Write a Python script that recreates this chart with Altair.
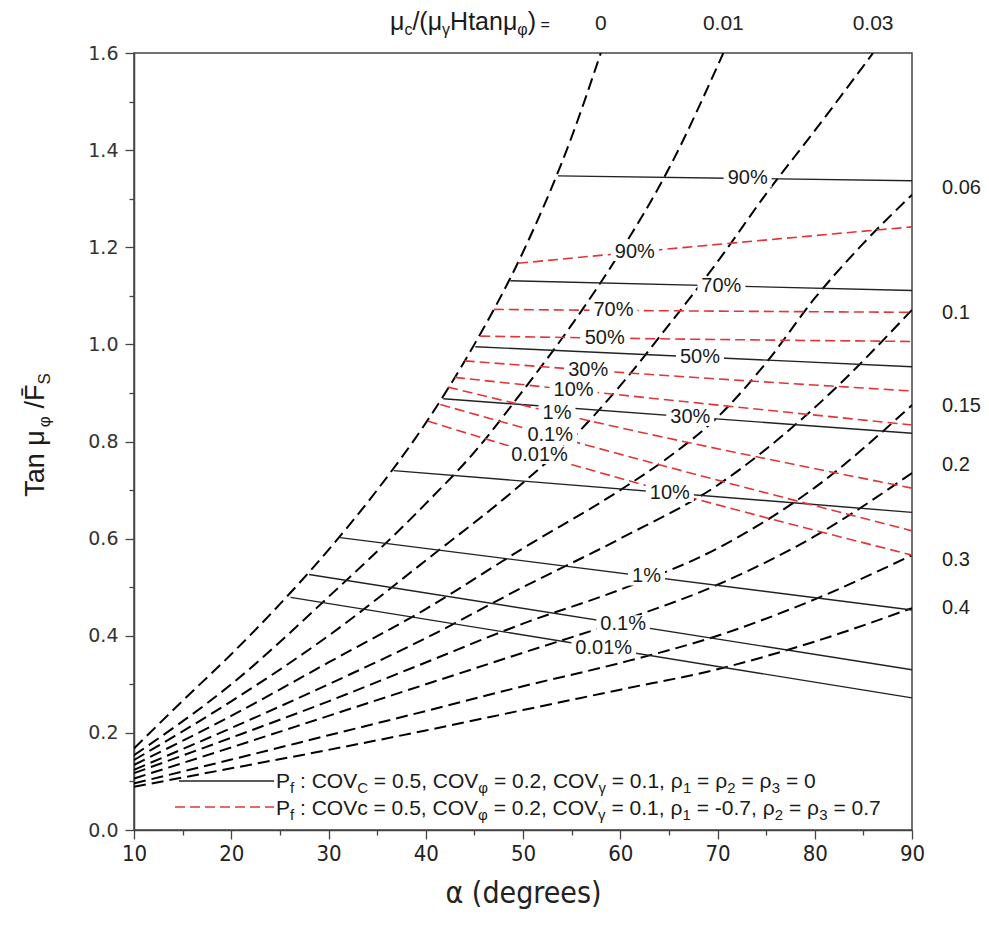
import altair as alt
import pandas as pd

# ---------------- data ----------------
CURVE_NAMES = ["0", "0.01", "0.03", "0.06", "0.1", "0.15", "0.2", "0.3", "0.4"]

C0_A = [10, 15, 20, 25, 30, 35, 40, 45, 50, 55, 58]
C0_V = [0.168, 0.266, 0.362, 0.465, 0.577, 0.700, 0.838, 1.000, 1.190, 1.427, 1.600]
C001_A = [10, 20, 30, 40, 45, 50, 55, 60, 65, 70.6]
C001_V = [0.154, 0.300, 0.480, 0.672, 0.778, 0.905, 1.040, 1.190, 1.362, 1.600]
C003_A = [10, 20, 30, 40, 50, 55, 60, 65, 70, 75, 80, 86]
C003_V = [0.144, 0.265, 0.400, 0.555, 0.715, 0.805, 0.915, 1.040, 1.170, 1.310, 1.440, 1.600]
C006_A = [10, 20, 30, 40, 50, 60, 65, 70, 75, 80, 85, 90]
C006_V = [0.134, 0.235, 0.345, 0.455, 0.580, 0.700, 0.768, 0.850, 0.962, 1.095, 1.208, 1.308]
C01_A = [10, 20, 30, 40, 50, 60, 70, 80, 90]
C01_V = [0.124, 0.210, 0.300, 0.395, 0.500, 0.600, 0.710, 0.870, 1.071]
C015_A = [10, 20, 30, 40, 50, 60, 70, 80, 90]
C015_V = [0.117, 0.190, 0.265, 0.345, 0.425, 0.495, 0.580, 0.705, 0.875]
C02_A = [10, 20, 30, 40, 50, 60, 70, 80, 90]
C02_V = [0.106, 0.170, 0.235, 0.300, 0.365, 0.430, 0.505, 0.605, 0.735]
C03_A = [10, 20, 30, 40, 50, 60, 70, 80, 90]
C03_V = [0.096, 0.145, 0.195, 0.245, 0.296, 0.344, 0.400, 0.475, 0.566]
C04_A = [10, 20, 30, 40, 50, 60, 70, 80, 90]
C04_V = [0.089, 0.127, 0.165, 0.205, 0.247, 0.289, 0.331, 0.388, 0.457]

CURVE_A = [C0_A, C001_A, C003_A, C006_A, C01_A, C015_A, C02_A, C03_A, C04_A]
CURVE_V = [C0_V, C001_V, C003_V, C006_V, C01_V, C015_V, C02_V, C03_V, C04_V]

# solid black probability lines (rho = 0)
BLACK_LEVELS = ["90%", "70%", "50%", "30%", "10%", "1%", "0.1%", "0.01%"]
BLACK_START_A = [53.6, 48.7, 45.1, 41.8, 36.7, 31.2, 28.0, 26.1]
BLACK_START_V = [1.347, 1.131, 0.995, 0.888, 0.740, 0.602, 0.526, 0.479]
BLACK_END_A = [90, 90, 90, 90, 90, 90, 90, 90]
BLACK_END_V = [1.337, 1.111, 0.954, 0.817, 0.654, 0.453, 0.330, 0.272]
BLACK_LABEL_A = [73.1, 70.4, 68.2, 67.2, 65.1, 62.7, 60.3, 58.3]

# red dashed probability lines (correlated case)
RED_LEVELS = ["90%", "70%", "50%", "30%", "10%", "1%", "0.1%", "0.01%"]
RED_START_A = [49.5, 47.0, 45.6, 44.0, 43.0, 42.3, 41.5, 40.2]
RED_START_V = [1.167, 1.072, 1.017, 0.966, 0.932, 0.912, 0.876, 0.842]
RED_MID_A = [61.5, 59.3, 58.4, 56.7, 55.2, 53.5, 52.8, 51.7]
RED_MID_V = [1.190, 1.070, 1.013, 0.947, 0.906, 0.858, 0.813, 0.772]
RED_END_A = [90, 90, 90, 90, 90, 90, 90, 90]
RED_END_V = [1.242, 1.066, 1.006, 0.904, 0.834, 0.704, 0.616, 0.566]

RIGHT_LABELS = ["0.06", "0.1", "0.15", "0.2", "0.3", "0.4"]
RIGHT_LABEL_V = [1.321, 1.065, 0.873, 0.752, 0.557, 0.457]
TOP_LABELS = ["0", "0.01", "0.03"]
TOP_LABEL_A = [58.0, 70.6, 86.0]

X_TICKS = list(range(10, 95, 5))
Y_TICKS = [round(i * 0.1, 1) for i in range(0, 17)]

# ---------------- layout helpers ----------------
PL, PT, W, H = 134, 53, 778, 777
XD, YD = (10, 90), (0, 1.6)


def ax(px):
    return XD[0] + (px - PL) * (XD[1] - XD[0]) / W


def vy(py):
    return (PT + H - py) * (YD[1] - YD[0]) / H


KX = (XD[1] - XD[0]) / W
KY = (YD[1] - YD[0]) / H

MET = {' ': .278, ':': .278, ',': .278, '.': .278, '=': .584, '-': .333,
       'P': .667, 'C': .722, 'O': .778, 'V': .667, 'c': .5, 'f': .278, 'H': .722,
       't': .278, 'a': .556, 'n': .556, 'T': .611, 'F': .611, 'S': .667, 's': .5,
       '/': .278, '(': .333, ')': .333, 'μ': .576, 'γ': .5, 'φ': .652, 'ρ': .578,
       '%': .889, '\u0304': 0.0}


def tw(s, size):
    return sum(MET.get(ch, .556) for ch in s) * size


def advance_rows(segs, size, sub, small=None):
    """(text, kind, font size, offset along the line) for each segment"""
    out, pos = [], 0.0
    for txt, kind in segs:
        s = sub if kind == 's' else (small if kind == 't' else size)
        lead = len(txt) - len(txt.lstrip(' '))
        pos += lead * MET[' '] * s
        body = txt.strip(' ')
        out.append((body, kind, s, pos))
        pos += tw(body, s)
        pos += (len(txt) - lead - len(body)) * MET[' '] * s
    return out, pos


def layout(segs, x0, base, size, sub, shift, small=None):
    rows = []
    items, _ = advance_rows(segs, size, sub, small)
    for body, kind, s, pos in items:
        rows.append(dict(px=x0 + pos, py=base + (shift if kind == 's' else 0), t=body, size=s))
    return rows


FONT = "Liberation Sans, Arial, sans-serif"
NARROW = "Liberation Sans Narrow, DejaVu Sans Condensed, Liberation Sans, Arial"
RED = "#e3343a"

XS = alt.Scale(domain=list(XD), nice=False, zero=False)
YS = alt.Scale(domain=list(YD), nice=False, zero=False)

AXIS_X = alt.Axis(
    values=X_TICKS, labelExpr="datum.value % 10 == 0 ? datum.label : ''",
    tickSize={"condition": {"test": "datum.value % 10 == 0", "value": 9}, "value": 5},
    grid=False, title="α (degrees)", titleFont=NARROW, titleFontSize=30,
    titleFontWeight="normal", titleColor="#222", titlePadding=14,
    labelFont=NARROW, labelFontSize=22, labelColor="#222", labelPadding=4,
    labelOverlap=False, labelFlush=False, domainColor="#444", domainWidth=1.5,
    tickColor="#444", tickWidth=1.3)
AXIS_Y = alt.Axis(
    values=Y_TICKS,
    labelExpr="round(datum.value*10) % 2 == 0 ? format(datum.value, '.1f') : ''",
    tickSize={"condition": {"test": "round(datum.value*10) % 2 == 0", "value": 9}, "value": 5},
    grid=False, title="", labelFont="DejaVu Sans, Verdana, sans-serif",
    labelFontSize=19, labelColor="#333", labelPadding=7, labelOverlap=False,
    labelFlush=False, domainColor="#444", domainWidth=1.5, tickColor="#444",
    tickWidth=1.3)


def X(f="a"):
    return alt.X(f"{f}:Q", scale=XS, axis=AXIS_X)


def Y(f="v"):
    return alt.Y(f"{f}:Q", scale=YS, axis=AXIS_Y)


# ---------------- frames ----------------
curve_rows = []
for name, A, V in zip(CURVE_NAMES, CURVE_A, CURVE_V):
    for i, (a, v) in enumerate(zip(A, V)):
        curve_rows.append(dict(curve=name, a=a, v=v, o=i))
curves = pd.DataFrame(curve_rows)

black_rows, red_rows, lab_rows = [], [], []
for i, lev in enumerate(BLACK_LEVELS):
    black_rows.append(dict(line=lev, a=BLACK_START_A[i], v=BLACK_START_V[i], o=0))
    black_rows.append(dict(line=lev, a=BLACK_END_A[i], v=BLACK_END_V[i], o=1))
    la = BLACK_LABEL_A[i]
    f = (la - BLACK_START_A[i]) / (BLACK_END_A[i] - BLACK_START_A[i])
    lv = BLACK_START_V[i] + f * (BLACK_END_V[i] - BLACK_START_V[i])
    lab_rows.append(dict(t=lev, a=la, v=lv))
for i, lev in enumerate(RED_LEVELS):
    red_rows.append(dict(line=lev, a=RED_START_A[i], v=RED_START_V[i], o=0))
    red_rows.append(dict(line=lev, a=RED_MID_A[i], v=RED_MID_V[i], o=1))
    red_rows.append(dict(line=lev, a=RED_END_A[i], v=RED_END_V[i], o=2))
    lab_rows.append(dict(t=lev, a=RED_MID_A[i], v=RED_MID_V[i]))
blacks = pd.DataFrame(black_rows)
reds = pd.DataFrame(red_rows)
labs = pd.DataFrame(lab_rows)
LAB_SIZE = 20
labs["a1"] = labs["a"] - (labs["t"].map(lambda s: tw(s, LAB_SIZE)) / 2 + 4) * KX
labs["a2"] = labs["a"] + (labs["t"].map(lambda s: tw(s, LAB_SIZE)) / 2 + 4) * KX
labs["v1"] = labs["v"] - 9 * KY
labs["v2"] = labs["v"] + 9 * KY

# ---------------- layers ----------------
curve_layer = alt.Chart(curves).mark_line(
    color="black", strokeDash=[12, 6], strokeWidth=2, clip=True, interpolate="monotone"
).encode(x=X(), y=Y(), detail="curve:N", order="o:Q")

black_layer = alt.Chart(blacks).mark_line(color="#222", strokeWidth=1.4).encode(
    x=X(), y=Y(), detail="line:N", order="o:Q")

red_layer = alt.Chart(reds).mark_line(
    color=RED, strokeDash=[10, 5], strokeWidth=1.6, interpolate="monotone"
).encode(x=X(), y=Y(), detail="line:N", order="o:Q")

bg_layer = alt.Chart(labs).mark_rect(color="white").encode(
    x=X("a1"), x2="a2:Q", y=Y("v1"), y2="v2:Q")

lab_layer = alt.Chart(labs).mark_text(
    font=FONT, fontSize=LAB_SIZE, color="#1a1a1a", align="center", baseline="middle"
).encode(x=X(), y=Y(), text="t:N")

right_df = pd.DataFrame(dict(t=RIGHT_LABELS, v=RIGHT_LABEL_V, a=[ax(942)] * len(RIGHT_LABELS)))
right_layer = alt.Chart(right_df).mark_text(
    font=FONT, fontSize=20, color="#222", align="left", baseline="middle"
).encode(x=X(), y=Y(), text="t:N")

top_df = pd.DataFrame(dict(t=TOP_LABELS, a=TOP_LABEL_A, v=[vy(30)] * len(TOP_LABELS)))
top_layer = alt.Chart(top_df).mark_text(
    font=FONT, fontSize=21, color="#222", align="center", baseline="alphabetic"
).encode(x=X(), y=Y(), text="t:N")

# rich texts built from segments
rich = []
rich += layout([("μ", "n"), ("c", "s"), ("/(μ", "n"), ("γ", "s"), ("Htanμ", "n"),
                ("φ", "s"), (")", "n"), (" =", "t")], 390, 30, 25, 16, 5, small=16)
leg1 = [("P", "n"), ("f", "s"), (" : COV", "n"), ("C", "s"), (" = 0.5, COV", "n"), ("φ", "s"),
        (" = 0.2, COV", "n"), ("γ", "s"), (" = 0.1, ρ", "n"), ("1", "s"), (" = ρ", "n"),
        ("2", "s"), (" = ρ", "n"), ("3", "s"), (" = 0", "n")]
leg2 = [("P", "n"), ("f", "s"), (" : COVc = 0.5, COV", "n"), ("φ", "s"), (" = 0.2, COV", "n"),
        ("γ", "s"), (" = 0.1, ρ", "n"), ("1", "s"), (" = -0.7, ρ", "n"), ("2", "s"),
        (" = ρ", "n"), ("3", "s"), (" = 0.7", "n")]
rich += layout(leg1, 276, 788, 21, 15, 5)
rich += layout(leg2, 276, 815, 21, 15, 5)
rich_df = pd.DataFrame(rich)
rich_df["a"] = rich_df["px"].map(ax)
rich_df["v"] = rich_df["py"].map(vy)
rich_layer = alt.Chart(rich_df).mark_text(
    font=FONT, color="#1a1a1a", align="left", baseline="alphabetic"
).encode(x=X(), y=Y(), text="t:N",
         size=alt.Size("size:Q", scale=None, legend=None))

# legend samples
leg_lines = pd.DataFrame([
    dict(k="b", a=ax(179), v=vy(781), o=0), dict(k="b", a=ax(274), v=vy(781), o=1)])
leg_red = pd.DataFrame([
    dict(k="r", a=ax(175), v=vy(807), o=0), dict(k="r", a=ax(274), v=vy(807), o=1)])
leg_b_layer = alt.Chart(leg_lines).mark_line(color="#222", strokeWidth=1.4).encode(
    x=X(), y=Y(), order="o:Q")
leg_r_layer = alt.Chart(leg_red).mark_line(color=RED, strokeDash=[10, 5], strokeWidth=1.6).encode(
    x=X(), y=Y(), order="o:Q")

# rotated y title (reads bottom to top)
ysegs = [("Tan μ", "n"), ("φ", "s"), (" /", "n"), ("F\u0304", "n"), ("S", "s")]
items, total = advance_rows(ysegs, 27, 17)
y0 = 435 + total / 2
yrows = [dict(t=b, size=s, px=44 + (6 if k == "s" else 0), py=y0 - pos)
         for b, k, s, pos in items]
ydf = pd.DataFrame(yrows)
ydf["a"] = ydf["px"].map(ax)
ydf["v"] = ydf["py"].map(vy)
ytitle_layer = alt.Chart(ydf).mark_text(
    font=FONT, color="#1a1a1a", align="left", baseline="alphabetic", angle=270
).encode(x=X(), y=Y(), text="t:N",
         size=alt.Size("size:Q", scale=None, legend=None))

chart = alt.layer(
    curve_layer, black_layer, red_layer, bg_layer, lab_layer, right_layer, top_layer,
    rich_layer, leg_b_layer, leg_r_layer, ytitle_layer
).properties(
    width=W, height=H,
    autosize=alt.AutoSizeParams(type="none"),
    padding={"left": PL, "top": PT, "right": 989 - PL - W, "bottom": 931 - PT - H},
).configure_view(stroke="#444", strokeWidth=1.5)

chart.save("out.html", embed_options={"renderer": "svg", "actions": False})
